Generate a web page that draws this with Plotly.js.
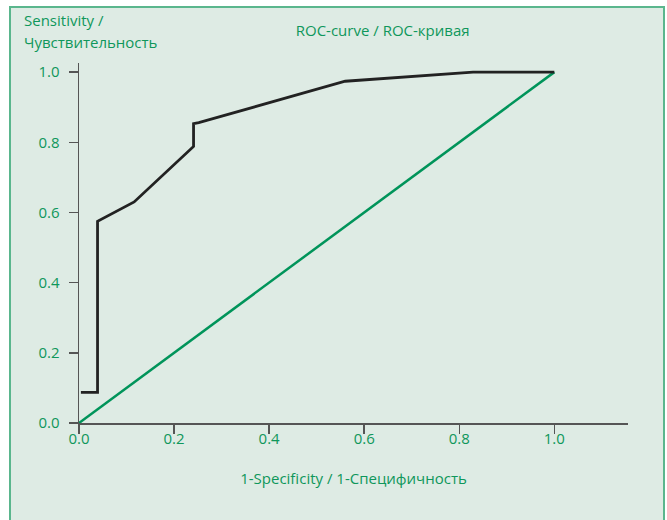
<!DOCTYPE html>
<html>
<head>
<meta charset="utf-8">
<script src="https://cdn.plot.ly/plotly-3.0.1.min.js"></script>
<style>
  html, body { margin: 0; padding: 0; background: #ffffff; overflow: hidden; width: 667px; height: 520px; }
  #frame { position: absolute; left: 9px; top: 6px; width: 656px; height: 540px; border: 2px solid #5ab68d; box-sizing: border-box; background: #deebe4; }
  #chart { width: 652px; height: 536px; }
</style>
</head>
<body>
<div id="frame"><div id="chart"></div></div>
<script>
// ROC curve points (1-Specificity, Sensitivity)
const rocX = [0.004, 0.039, 0.039, 0.116, 0.241, 0.241, 0.252, 0.560, 0.829, 1.0];
const rocY = [0.087, 0.087, 0.575, 0.630, 0.788, 0.853, 0.856, 0.974, 1.0, 1.0];
// reference diagonal
const diagX = [0, 1];
const diagY = [0, 1];
const tickVals = [0, 0.2, 0.4, 0.6, 0.8, 1.0];
const tickText = ['0.0', '0.2', '0.4', '0.6', '0.8', '1.0'];

const green = '#0f975b';
const fontFam = '"Open Sans", "Noto Sans", sans-serif';
const fs = 15;

const traces = [
  { x: diagX, y: diagY, mode: 'lines', line: { color: '#00945a', width: 2.5 }, hoverinfo: 'skip', showlegend: false },
  { x: rocX, y: rocY, mode: 'lines', line: { color: '#222222', width: 2.8 }, showlegend: false }
];

const layout = {
  width: 652, height: 536,
  paper_bgcolor: '#deebe4', plot_bgcolor: '#deebe4',
  margin: { l: 68, r: 35, t: 55, b: 121 },
  font: { family: fontFam, color: green, size: fs },
  title: { text: 'ROC-curve / ROC-кривая', x: 0.57, xanchor: 'center', y: 0.957, yanchor: 'middle', font: { size: fs, color: green, family: fontFam } },
  xaxis: {
    range: [0, 1.155], showgrid: false, zeroline: false, showline: true, linecolor: '#555555', linewidth: 1.5,
    ticks: 'outside', ticklen: 9, tickwidth: 1.5, tickcolor: '#555555', ticklabelstandoff: -8,
    tickvals: tickVals, ticktext: tickText, tickfont: { size: fs, color: green },
    title: { text: '1-Specificity / 1-Специфичность', font: { size: fs, color: green }, standoff: 27 }
  },
  yaxis: {
    range: [0, 1.026], showgrid: false, zeroline: false, showline: true, linecolor: '#555555', linewidth: 1.5,
    ticks: 'outside', ticklen: 9, tickwidth: 1.5, tickcolor: '#555555', ticklabelstandoff: 6,
    tickvals: tickVals, ticktext: tickText, tickfont: { size: fs, color: green }
  },
  annotations: [
    { text: 'Sensitivity /', xref: 'paper', yref: 'paper', x: -0.104, y: 1.119, xanchor: 'left', yanchor: 'middle', align: 'left', showarrow: false, font: { size: fs, color: green } },
    { text: 'Чувствительность', xref: 'paper', yref: 'paper', x: -0.104, y: 1.058, xanchor: 'left', yanchor: 'middle', align: 'left', showarrow: false, font: { size: fs, color: green } }
  ]
};

Plotly.newPlot('chart', traces, layout, { displayModeBar: false, staticPlot: true });
</script>
</body>
</html>
